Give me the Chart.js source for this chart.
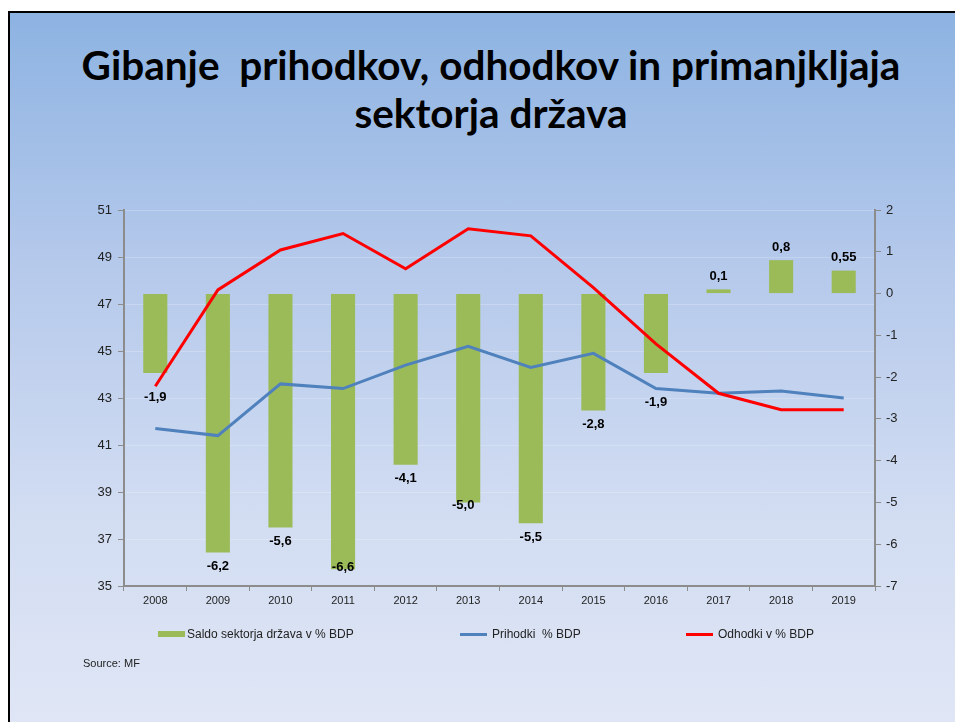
<!DOCTYPE html>
<html>
<head>
<meta charset="utf-8">
<script src="https://cdn.jsdelivr.net/npm/chart.js@4.4.1/dist/chart.umd.min.js"></script>
<style>
    html, body { margin: 0; padding: 0; background: #fff; }
    #slide {
        position: absolute; left: 8px; top: 11px; width: 960px; height: 720px;
        border-left: 2px solid #000; border-top: 2px solid #000;
        background: linear-gradient(to bottom, #8db3e2 0%, #b5c9eb 35%, #d2ddf2 70%, #e0e6f5 100%);
    }
    #title {
        position: absolute; left: 0; top: 41px; width: 982px; text-align: center;
        font-family: Lato, "Open Sans", sans-serif; font-weight: bold; font-size: 40.5px;
        line-height: 48px; color: #000;
    }
    #chart { position: absolute; left: 0; top: 0; }
    #legend { position: absolute; left: 0; top: 625px; width: 955px; height: 18px;
        font-family: "Liberation Sans", Arial, sans-serif; font-size: 12px; color: #222; }
    .item { position: absolute; top: 0; height: 18px; line-height: 18px; white-space: pre; }
    .swatch { position: absolute; left: 0; width: 27px; }
    #source { position: absolute; left: 83px; top: 657px;
        font-family: "Liberation Sans", Arial, sans-serif; font-size: 11px; color: #222; }
</style>
</head>
<body>
<div id="slide"></div>
<div id="title">Gibanje&nbsp; prihodkov, odhodkov in primanjkljaja<br>sektorja država</div>
<canvas id="chart" width="955" height="722"></canvas>
<div id="legend"></div>
<div id="source">Source: MF</div>
<script>
const years = ['2008', '2009', '2010', '2011', '2012', '2013', '2014', '2015', '2016', '2017', '2018', '2019'];
const saldo = [-1.9, -6.2, -5.6, -6.6, -4.1, -5.0, -5.5, -2.8, -1.9, 0.1, 0.8, 0.55];
const prihodki = [41.7, 41.4, 43.6, 43.4, 44.4, 45.2, 44.3, 44.9, 43.4, 43.2, 43.3, 43.0];
const odhodki = [43.5, 47.6, 49.3, 50.0, 48.5, 50.2, 49.9, 47.7, 45.3, 43.2, 42.5, 42.5];
const seriesNames = ['Saldo sektorja država v % BDP', 'Prihodki  % BDP', 'Odhodki v % BDP'];

// small pixel nudges for the value labels, like the original slide has them
const labelNudge = { 0: [0, 10], 3: [0, -16], 5: [-5, -11], 8: [0, 15] };

function fmt(v) {
    const s = Number.isInteger(Math.round(v * 100) / 10) ? v.toFixed(1) : v.toFixed(2);
    return s.replace('.', ',');
}

const valueLabels = {
    id: 'valueLabels',
    afterDatasetsDraw(chart) {
        const ctx = chart.ctx;
        const meta = chart.getDatasetMeta(0);
        ctx.save();
        ctx.font = 'bold 13px "Liberation Sans", Arial, sans-serif';
        ctx.fillStyle = '#000';
        ctx.textAlign = 'center';
        ctx.textBaseline = 'middle';
        meta.data.forEach((bar, i) => {
            const v = saldo[i];
            const n = labelNudge[i] || [0, 0];
            const y = v < 0 ? Math.max(bar.y, bar.base) + 14 : Math.min(bar.y, bar.base) - 13;
            ctx.fillText(fmt(v), bar.x + n[0], y + n[1]);
        });
        ctx.restore();
    }
};

const axisGrey = '#8c8c8c';

new Chart(document.getElementById('chart'), {
    type: 'bar',
    data: {
        labels: years,
        datasets: [
            {
                label: seriesNames[0],
                data: saldo,
                yAxisID: 'y1',
                backgroundColor: '#9bbb59',
                barPercentage: 0.385,
                categoryPercentage: 1,
                order: 3
            },
            {
                type: 'line',
                label: seriesNames[1],
                data: prihodki,
                yAxisID: 'y',
                borderColor: '#4f81bd',
                borderWidth: 3,
                pointRadius: 0,
                tension: 0,
                order: 2
            },
            {
                type: 'line',
                label: seriesNames[2],
                data: odhodki,
                yAxisID: 'y',
                borderColor: '#ff0000',
                borderWidth: 3,
                pointRadius: 0,
                tension: 0,
                order: 1
            }
        ]
    },
    options: {
        responsive: false,
        animation: false,
        layout: { padding: { top: 210, left: 0, right: 0, bottom: 0 } },
        plugins: {
            legend: { display: false },
            tooltip: { enabled: false }
        },
        scales: {
            x: {
                afterFit: s => { s.height = 136; },
                border: { color: axisGrey, width: 2 },
                grid: { drawOnChartArea: false, tickColor: axisGrey, tickLength: 5, offset: true },
                ticks: { color: '#222', padding: 3, font: { family: '"Liberation Sans", Arial', size: 11 } }
            },
            y: {
                position: 'left',
                min: 35,
                max: 51,
                afterFit: s => { s.width = 124; },
                border: { color: axisGrey, width: 2 },
                grid: {
                    color: 'rgba(255,255,255,0.22)',
                    borderDash: [1, 3],
                    tickColor: axisGrey,
                    tickBorderDash: [],
                    tickLength: 6
                },
                ticks: { stepSize: 2, color: '#222', padding: 6, font: { family: '"Liberation Sans", Arial', size: 13 } }
            },
            y1: {
                position: 'right',
                min: -7,
                max: 2,
                afterFit: s => { s.width = 80; },
                border: { color: axisGrey, width: 2 },
                grid: { drawOnChartArea: false, tickColor: axisGrey, tickLength: 6 },
                ticks: { stepSize: 1, color: '#222', padding: 5, font: { family: '"Liberation Sans", Arial', size: 13 } }
            }
        }
    },
    plugins: [valueLabels]
});

// legend laid out like on the slide
const legendPos = [158, 460, 686];
const legendSwatch = [
    { color: '#9bbb59', h: 6 },
    { color: '#4f81bd', h: 3 },
    { color: '#ff0000', h: 3 }
];
const legend = document.getElementById('legend');
seriesNames.forEach((name, i) => {
    const item = document.createElement('div');
    item.className = 'item';
    item.style.left = legendPos[i] + 'px';
    item.style.paddingLeft = (i === 0 ? 29 : 32) + 'px';
    const sw = document.createElement('span');
    sw.className = 'swatch';
    sw.style.background = legendSwatch[i].color;
    sw.style.height = legendSwatch[i].h + 'px';
    sw.style.top = (9 - legendSwatch[i].h / 2) + 'px';
    item.appendChild(sw);
    item.appendChild(document.createTextNode(name));
    legend.appendChild(item);
});
</script>
</body>
</html>
